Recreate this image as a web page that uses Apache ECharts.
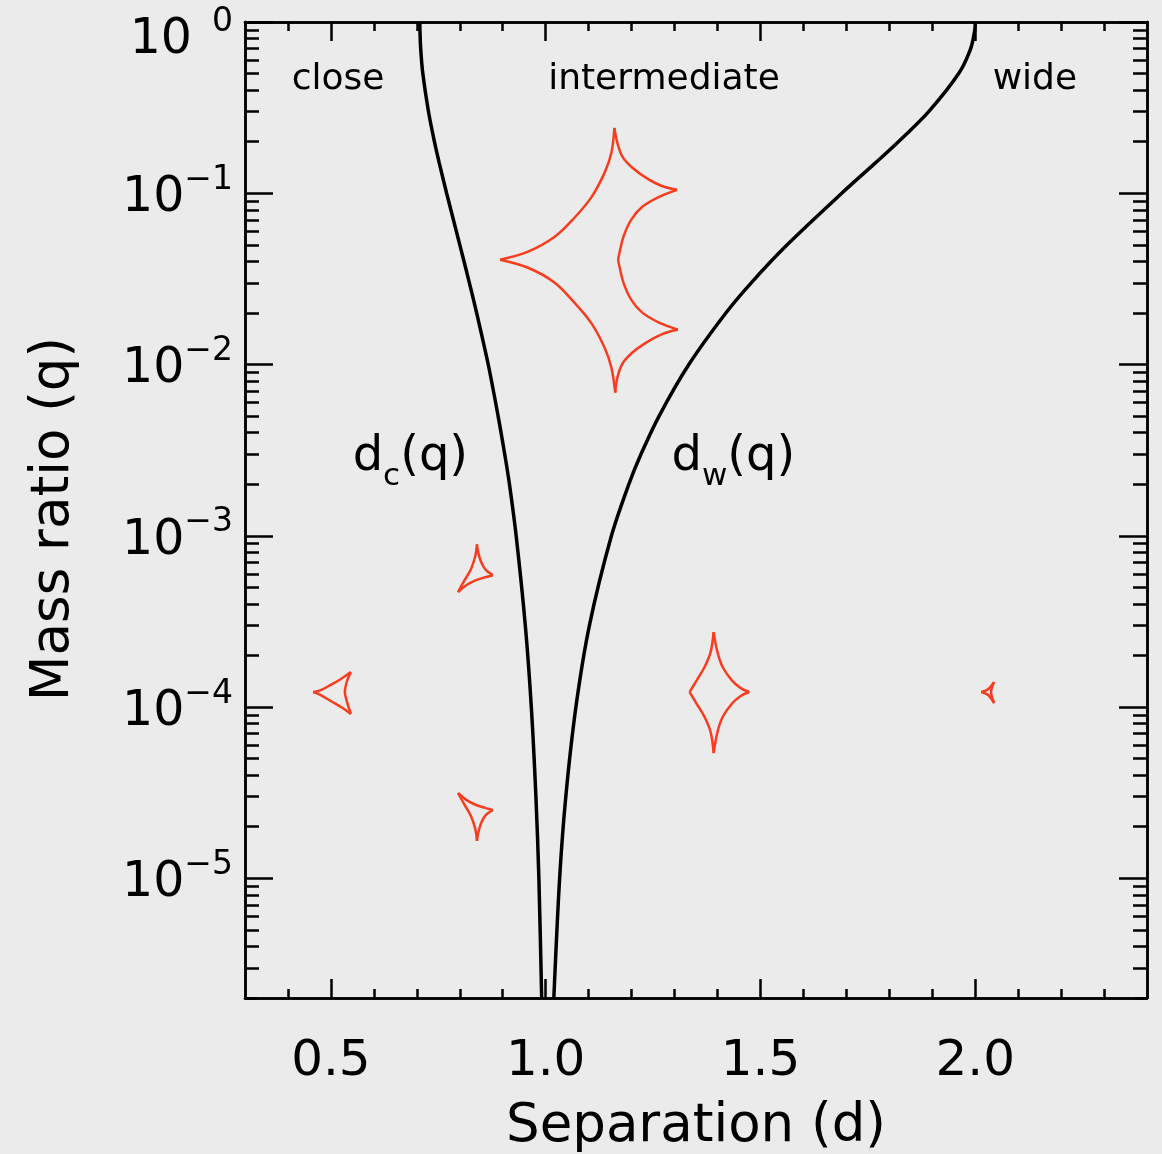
<!DOCTYPE html>
<html><head><meta charset="utf-8">
<script src="https://cdn.jsdelivr.net/npm/echarts@6/dist/echarts.min.js"></script>
<style>html,body{margin:0;padding:0;background:#ebebeb;}#c{width:1162px;height:1154px;}</style>
</head><body><div id="c"></div>
<script>
// ---------- data ----------
const qValues = [1, 0.9, 0.7, 0.5, 0.3, 0.2, 0.15, 0.1, 0.05, 0.03, 0.02, 0.01, 0.005, 0.003, 0.002, 0.001, 3e-4, 1e-4, 3e-5, 1e-5, 2e-6];
const dClose = [0.7071, 0.7073, 0.709, 0.714, 0.7271, 0.741, 0.7523, 0.7694, 0.8001, 0.8224, 0.8393, 0.8663, 0.8893, 0.9046, 0.9157, 0.9313, 0.9526, 0.9666, 0.9773, 0.9842, 0.9907];
const dWide = [2.0, 1.9991, 1.9895, 1.9615, 1.8918, 1.8213, 1.7671, 1.6893, 1.5622, 1.4786, 1.4195, 1.3333, 1.2640, 1.2221, 1.1936, 1.1531, 1.1019, 1.0704, 1.0469, 1.0325, 1.0190];

// caustic outlines: centre [d, log10 q] and edges as offsets [dd, dlog10q]
const resonantCenter = [1.160, -1.388];
const resonantEdges = [
  [[0,0.770],[0.007,0.682],[0.019,0.601],[0.042,0.537],[0.074,0.478],[0.109,0.432],[0.146,0.408]],
  [[0.146,0.408],[0.104,0.367],[0.065,0.309],[0.039,0.233],[0.021,0.134],[0.012,0.041],[0.009,0],[0.012,-0.041],[0.021,-0.134],[0.039,-0.233],[0.065,-0.309],[0.104,-0.367],[0.148,-0.408]],
  [[0.148,-0.408],[0.109,-0.437],[0.074,-0.484],[0.042,-0.542],[0.019,-0.606],[0.007,-0.688],[0.002,-0.776]],
  [[0.002,-0.776],[-0.007,-0.630],[-0.023,-0.513],[-0.053,-0.373],[-0.093,-0.251],[-0.139,-0.134],[-0.201,-0.047],[-0.266,0]],
  [[-0.266,0],[-0.201,0.047],[-0.139,0.134],[-0.093,0.245],[-0.053,0.367],[-0.023,0.507],[-0.007,0.624],[0,0.770]]
];
const closeUpperCenter = [0.838, -3.207];
const closeUpperEdges = [
  [[0.002,0.157],[0.005,0.111],[0.012,0.052],[0.023,0.006],[0.039,-0.023]],
  [[0.039,-0.023],[0.021,-0.035],[0.000,-0.052],[-0.023,-0.082],[-0.042,-0.122]],
  [[-0.042,-0.122],[-0.028,-0.058],[-0.012,0.012],[-0.002,0.087],[0.002,0.157]]
];
const closeLowerCenter = [0.838, -4.624];
const closeLowerEdges = [
  [[0.002,-0.157],[0.005,-0.111],[0.012,-0.052],[0.023,-0.006],[0.039,0.023]],
  [[0.039,0.023],[0.021,0.035],[0.000,0.052],[-0.023,0.082],[-0.042,0.122]],
  [[-0.042,0.122],[-0.028,0.058],[-0.012,-0.012],[-0.002,-0.087],[0.002,-0.157]]
];
const closeCentralCenter = [0.5185, -3.918];
const closeCentralEdges = [
  [[0.028,0.122],[0.005,0.082],[-0.019,0.047],[-0.042,0.017],[-0.060,0.006]],
  [[-0.060,0.006],[-0.042,-0.012],[-0.019,-0.047],[0.005,-0.082],[0.028,-0.122]],
  [[0.028,-0.122],[0.019,-0.052],[0.014,0.006],[0.019,0.070],[0.028,0.122]]
];
const interCenter = [1.391, -3.9125];
const interEdges = [
  [[0,0.350],[0.009,0.233],[0.021,0.146],[0.042,0.070],[0.063,0.023],[0.083,0]],
  [[0.083,0],[0.063,-0.023],[0.042,-0.070],[0.021,-0.146],[0.009,-0.233],[0,-0.356]],
  [[0,-0.356],[-0.007,-0.233],[-0.021,-0.146],[-0.039,-0.070],[-0.056,0]],
  [[-0.056,0],[-0.039,0.070],[-0.021,0.146],[-0.007,0.233],[0,0.350]]
];
const wideCenter = [2.035, -3.9125];
const wideEdges = [
  [[-0.021,0],[-0.005,0.017],[0.009,0.058]],
  [[0.009,0.058],[0.002,0],[0.009,-0.064]],
  [[0.009,-0.064],[-0.005,-0.017],[-0.021,0]]
];

// text annotations: [text, d, log10 q]
const regionLabels = [['close', 0.5165, -0.334], ['intermediate', 1.2755, -0.334], ['wide', 2.139, -0.334]];
const curveLabels = [['c', 0.685, -2.575], ['w', 1.437, -2.575]];

// ticks
const xMajorTicks = [0.5, 1.0, 1.5, 2.0];
const xMinorTicks = [0.4, 0.6, 0.7, 0.8, 0.9, 1.1, 1.2, 1.3, 1.4, 1.6, 1.7, 1.8, 1.9, 2.1, 2.2, 2.3];
const yMajorTicks = [1e-5, 1e-4, 1e-3, 1e-2, 1e-1, 1];
const yMinorMantissas = [2, 3, 4, 5, 6, 7, 8, 9];
const yMinorExponents = [-6, -5, -4, -3, -2, -1];

// ---------- build ----------
const yMinorTicks = [];
yMinorExponents.forEach(e => yMinorMantissas.forEach(m => {
  const v = parseFloat((m * Math.pow(10, e)).toPrecision(6));
  if (v >= 2e-6 && v < 1) yMinorTicks.push(v);
}));

const FONT = 'DejaVu Sans';
const BLACK = '#000';
const RED = '#fa3c1e';
const lineW = 2.5;

function xAxisDef(pos, ticks, len, label) {
  return {
    type: 'value', position: pos, min: 0.3, max: 2.4,
    axisLine: { show: true, onZero: false, lineStyle: { color: BLACK, width: lineW } },
    axisTick: { show: true, inside: true, length: len, customValues: ticks, lineStyle: { color: BLACK, width: lineW } },
    axisLabel: label ? {
      show: true, customValues: xMajorTicks, formatter: v => Number(v).toFixed(1),
      fontSize: 50, fontFamily: FONT, color: BLACK, margin: 39
    } : { show: false },
    splitLine: { show: false }, minorTick: { show: false },
    name: label ? 'Separation (d)' : '', nameLocation: 'middle', nameGap: 103,
    nameTextStyle: { fontSize: 53, fontFamily: FONT, color: BLACK }
  };
}
function yAxisDef(pos, ticks, len, label) {
  return {
    type: 'log', logBase: 10, position: pos, min: 2e-6, max: 1,
    axisLine: { show: true, onZero: false, lineStyle: { color: BLACK, width: lineW } },
    axisTick: { show: true, inside: true, length: len, customValues: ticks, lineStyle: { color: BLACK, width: lineW } },
    axisLabel: label ? {
      show: true, customValues: yMajorTicks, margin: 12, color: BLACK, fontFamily: FONT,
      formatter: v => {
        const e = Math.round(Math.log10(v));
        if (e === 0) return '{b0|10}{s0|0}';
        return '{b|10}{s|\u2212' + (-e) + '}';
      },
      rich: {
        b: { fontSize: 49, fontFamily: FONT, color: BLACK, padding: [10, 0, 0, 0], verticalAlign: 'bottom' },
        s: { fontSize: 33, fontFamily: FONT, color: BLACK, verticalAlign: 'top' },
        b0: { fontSize: 49, fontFamily: FONT, color: BLACK, padding: [36, 0, 0, 0], verticalAlign: 'bottom' },
        s0: { fontSize: 33, fontFamily: FONT, color: BLACK, padding: [26, 0, 0, 20], verticalAlign: 'top' }
      }
    } : { show: false },
    splitLine: { show: false }, minorTick: { show: false },
    name: label ? 'Mass ratio (q)' : '', nameLocation: 'middle', nameGap: 164, nameRotate: 90,
    nameTextStyle: { fontSize: 53, fontFamily: FONT, color: BLACK, padding: [0, 18, 0, 0] }
  };
}

const series = [];
series.push({ type: 'line', name: 'dc', data: qValues.map((q, i) => [dClose[i], q]), showSymbol: false, smooth: 0.3,
  lineStyle: { color: BLACK, width: 3.5 }, silent: true, z: 3 });
series.push({ type: 'line', name: 'dw', data: qValues.map((q, i) => [dWide[i], q]), showSymbol: false, smooth: 0.3,
  lineStyle: { color: BLACK, width: 3.5 }, silent: true, z: 3 });

function addCaustic(center, edges) {
  edges.forEach(edge => {
    series.push({
      type: 'line', showSymbol: false, smooth: 0.35, silent: true, z: 4,
      lineStyle: { color: RED, width: 2.5 },
      data: edge.map(o => [center[0] + o[0], Math.pow(10, center[1] + o[1])])
    });
  });
}
addCaustic(resonantCenter, resonantEdges);
addCaustic(closeUpperCenter, closeUpperEdges);
addCaustic(closeLowerCenter, closeLowerEdges);
addCaustic(closeCentralCenter, closeCentralEdges);
addCaustic(interCenter, interEdges);
addCaustic(wideCenter, wideEdges);

series.push({
  type: 'scatter', symbolSize: 0, silent: true, z: 5,
  itemStyle: { opacity: 1 },
  data: regionLabels.map(r => ({ value: [r[1], Math.pow(10, r[2])], name: r[0] })),
  label: { show: true, position: 'inside', formatter: '{b}', fontSize: 36, fontFamily: FONT, color: BLACK, opacity: 1 }
});
series.push({
  type: 'scatter', symbolSize: 0, silent: true, z: 5,
  itemStyle: { opacity: 1 },
  data: curveLabels.map(r => ({ value: [r[1], Math.pow(10, r[2])], name: r[0] })),
  label: {
    show: true, position: 'inside', color: BLACK, fontFamily: FONT, opacity: 1,
    formatter: p => '{m|d}{sub|' + p.name + '}{m|(q)}',
    rich: {
      m: { fontSize: 48, fontFamily: FONT, color: BLACK, padding: [0, 0, 10, 0], verticalAlign: 'top' },
      sub: { fontSize: 31, fontFamily: FONT, color: BLACK, verticalAlign: 'bottom' }
    }
  }
});

const chart = echarts.init(document.getElementById('c'), null, { renderer: 'canvas' });
chart.setOption({
  backgroundColor: '#ebebeb',
  animation: false,
  grid: { left: 245, right: 15, top: 22, bottom: 156, containLabel: false, outerBoundsMode: 'none' },
  xAxis: [
    xAxisDef('bottom', xMajorTicks, 19, true),
    xAxisDef('bottom', xMinorTicks, 9, false),
    xAxisDef('top', xMajorTicks, 19, false),
    xAxisDef('top', xMinorTicks, 9, false)
  ],
  yAxis: [
    yAxisDef('left', yMajorTicks, 28, true),
    yAxisDef('left', yMinorTicks, 14, false),
    yAxisDef('right', yMajorTicks, 28, false),
    yAxisDef('right', yMinorTicks, 14, false)
  ],
  series: series
});
</script>
</body></html>
